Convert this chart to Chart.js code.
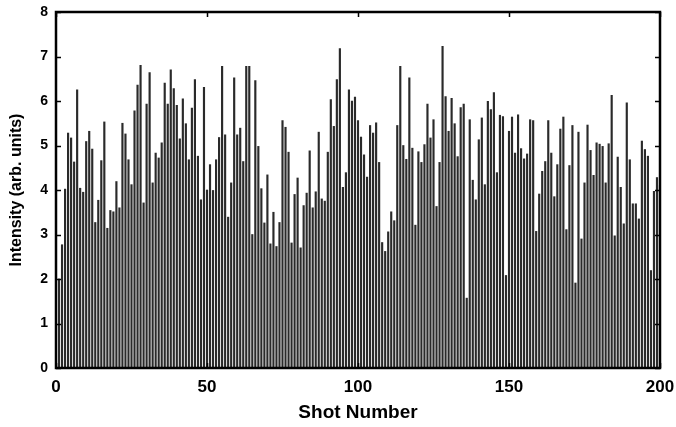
<!DOCTYPE html>
<html><head><meta charset="utf-8">
<script src="https://cdn.jsdelivr.net/npm/chart.js@4/dist/chart.umd.min.js"></script>
<style>html,body{margin:0;padding:0;background:#fff}#wrap{width:676px;height:427px}</style>
</head><body><div id="wrap"><canvas id="c" width="676" height="427"></canvas></div>
<script>
const intensity = [
2.0,2.77,4.02,5.28,5.17,4.63,6.25,4.04,3.95,5.09,
5.32,4.92,3.27,3.77,4.66,5.53,3.14,3.54,3.51,4.19,
3.6,5.5,5.26,4.68,4.12,5.78,6.36,6.8,3.71,5.93,
6.64,4.16,4.83,4.72,5.06,6.4,5.93,6.7,6.28,5.9,
5.15,6.05,5.49,4.68,5.84,6.48,4.76,3.78,6.31,4.0,
4.57,3.99,4.68,5.18,6.78,5.24,3.39,4.16,6.52,5.24,
5.39,4.64,6.78,6.78,3.0,6.46,4.98,4.03,3.26,4.34,
2.79,3.5,2.73,3.27,5.56,5.41,4.85,2.81,3.9,4.27,
2.7,3.65,3.93,4.88,3.6,3.96,5.3,3.8,3.75,4.85,
6.03,5.43,6.48,7.18,4.06,4.39,6.25,6.0,6.09,5.56,
5.19,4.79,4.29,5.45,5.28,5.51,4.62,2.82,2.62,3.06,
3.51,3.31,5.45,6.78,5.0,4.69,6.52,4.94,3.21,4.86,
4.62,5.02,5.93,5.17,5.58,3.63,4.62,7.23,6.1,5.32,
6.06,5.49,4.75,5.85,5.93,1.57,5.58,4.22,3.78,5.13,
5.62,4.12,5.99,5.81,6.19,4.39,5.68,5.65,2.08,5.32,
5.64,4.83,5.69,4.93,4.7,4.81,5.58,5.56,3.07,3.91,
4.42,4.64,5.56,4.83,3.85,4.57,5.37,5.64,3.11,4.55,
5.45,1.91,5.3,2.9,4.16,5.46,4.89,4.33,5.06,5.03,
4.98,4.16,5.04,6.13,2.97,4.74,4.06,3.24,5.96,4.68,
3.69,3.69,3.35,5.1,4.91,4.76,2.19,3.97,4.28,4.1
];
const firstShot = 1;
const xTicks = [0,50,100,150,200];
const yTicks = [0,1,2,3,4,5,6,7,8];
const xTitle = 'Shot Number';
const yTitle = 'Intensity (arb. units)';

const points = intensity.map((v,i)=>({x:firstShot+i, y:v}));
const FONT = '"Liberation Sans", Arial, sans-serif';

const frame = {
  id:'frame',
  afterDatasetsDraw(chart){
    const {ctx, chartArea:a, scales:{x,y}} = chart;
    ctx.save();
    ctx.strokeStyle='#000';
    ctx.lineWidth=1.5;
    ctx.beginPath();
    yTicks.forEach(t=>{const p=Math.round(y.getPixelForValue(t))+0.5;
      ctx.moveTo(a.left,p);ctx.lineTo(a.left+5,p);
      ctx.moveTo(a.right,p);ctx.lineTo(a.right-5,p);});
    xTicks.forEach(t=>{const p=Math.round(x.getPixelForValue(t))+0.5;
      ctx.moveTo(p,a.bottom);ctx.lineTo(p,a.bottom-5);
      ctx.moveTo(p,a.top);ctx.lineTo(p,a.top+5);});
    ctx.stroke();
    ctx.lineWidth=2.5;
    ctx.strokeRect(a.left,a.top,a.right-a.left,a.bottom-a.top);
    ctx.restore();
  }
};

new Chart(document.getElementById('c'),{
  type:'bar',
  data:{datasets:[{data:points, backgroundColor:'#2a2a2a', borderWidth:0, barThickness:1.5}]},
  options:{
    responsive:false, animation:false,
    layout:{padding:{top:12,right:16,left:0,bottom:0}},
    plugins:{legend:{display:false},tooltip:{enabled:false}},
    scales:{
      x:{type:'linear',min:0,max:200,offset:false,
        afterBuildTicks(s){s.ticks=xTicks.map(v=>({value:v}));},
        afterFit(s){s.height=59;s.paddingLeft=0;s.paddingRight=0;},
        grid:{display:false,drawTicks:false}, border:{display:false},
        ticks:{color:'#000',font:{family:FONT,size:17,weight:'bold'},padding:9,maxRotation:0},
        title:{display:true,text:xTitle,color:'#000',font:{family:FONT,size:19,weight:'bold'},padding:{top:0,bottom:3}}
      },
      y:{min:0,max:8,
        afterBuildTicks(s){s.ticks=yTicks.map(v=>({value:v}));},
        afterFit(s){s.width=56;s.paddingTop=0;s.paddingBottom=0;},
        grid:{display:false,drawTicks:false}, border:{display:false},
        ticks:{color:'#000',font:{family:FONT,size:14,weight:'bold'},padding:8},
        title:{display:true,text:yTitle,color:'#000',font:{family:FONT,size:16,weight:'bold'},padding:{top:7,bottom:0}}
      }
    }
  },
  plugins:[frame]
});
</script></body></html>
